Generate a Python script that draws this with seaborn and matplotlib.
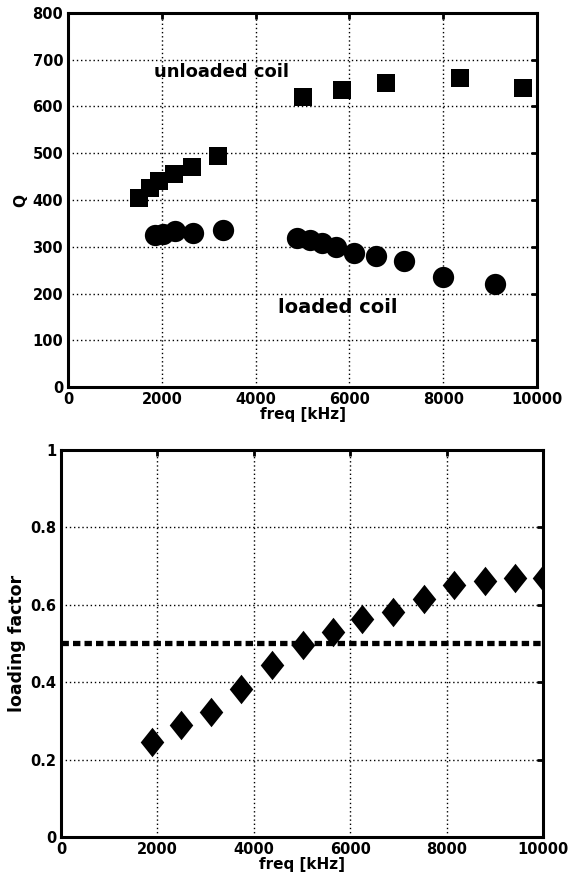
import matplotlib
matplotlib.use("Agg")
import matplotlib.pyplot as plt
from matplotlib.path import Path
import pandas as pd
import seaborn as sns

# Q of the coil, unloaded
unloaded_freq = [1520, 1750, 1950, 2250, 2650, 3200, 5000, 5850, 6780, 8350, 9700]
unloaded_q = [405, 425, 440, 455, 470, 495, 620, 635, 650, 660, 640]

# Q of the coil, loaded
loaded_freq = [1860, 2030, 2280, 2670, 3310, 4880, 5150, 5410, 5710, 6100, 6570, 7170, 8000, 9100]
loaded_q = [325, 327, 333, 330, 335, 318, 315, 307, 300, 286, 281, 270, 236, 220]

# loading factor
lf_freq = [1880, 2490, 3120, 3740, 4380, 5020, 5650, 6250, 6890, 7530, 8160, 8790, 9410, 10020]
lf_value = [0.245, 0.29, 0.322, 0.383, 0.444, 0.496, 0.53, 0.562, 0.582, 0.615, 0.65, 0.662, 0.669, 0.668]
lf_ref = 0.5

x_ticks = [0, 2000, 4000, 6000, 8000, 10000]
q_ticks = [0, 100, 200, 300, 400, 500, 600, 700, 800]
lf_ticks = [0, 0.2, 0.4, 0.6, 0.8, 1]

df_un = pd.DataFrame({"freq": unloaded_freq, "Q": unloaded_q})
df_lo = pd.DataFrame({"freq": loaded_freq, "Q": loaded_q})
df_lf = pd.DataFrame({"freq": lf_freq, "lf": lf_value})

sns.set_style("white")
plt.rcParams["font.family"] = ["DejaVu Sans"]
plt.rcParams["font.weight"] = "bold"
plt.rcParams["text.color"] = "black"
plt.rcParams["axes.labelcolor"] = "black"
plt.rcParams["xtick.color"] = "black"
plt.rcParams["ytick.color"] = "black"

fig = plt.figure(figsize=(5.75, 8.84), dpi=100)
ax1 = fig.add_axes([0.1183, 0.5622, 0.8157, 0.4231])
ax2 = fig.add_axes([0.1061, 0.0532, 0.8383, 0.4378])

# tall diamond like the original
diamond = Path([(0, 1), (0.8, 0), (0, -1), (-0.8, 0), (0, 1)],
               [Path.MOVETO, Path.LINETO, Path.LINETO, Path.LINETO, Path.CLOSEPOLY])


def style_axes(ax, yticks, ylabel, ylabel_size):
    ax.set_xlim(0, 10000)
    ax.set_ylim(yticks[0], yticks[-1])
    ax.set_xticks(x_ticks)
    ax.set_yticks(yticks)
    ax.set_yticklabels([f"{t:g}" for t in yticks])
    ax.grid(True, linestyle=(0, (1, 2)), color="black", linewidth=1.0)
    ax.set_axisbelow(True)
    for s in ax.spines.values():
        s.set_linewidth(2.2)
        s.set_color("black")
    ax.tick_params(direction="in", length=4, width=2, top=True, right=True,
                   labelsize=10.5, colors="black")
    ax.tick_params(axis="x", pad=3.5)
    ax.tick_params(axis="y", pad=3.5)
    for lab in ax.get_xticklabels() + ax.get_yticklabels():
        lab.set_fontweight("bold")
    ax.set_xlabel("freq [kHz]", fontsize=11, fontweight="bold", labelpad=0, color="black")
    ax.set_ylabel(ylabel, fontsize=ylabel_size, fontweight="bold", labelpad=3, color="black")


# top: Q vs frequency
sns.scatterplot(data=df_un, x="freq", y="Q", marker="s", s=160, color="black",
                edgecolor="black", linewidth=0, ax=ax1, clip_on=True)
sns.scatterplot(data=df_lo, x="freq", y="Q", marker="o", s=235, color="black",
                edgecolor="black", linewidth=0, ax=ax1, clip_on=True)
style_axes(ax1, q_ticks, "Q", 11)
ax1.text(3280, 674, "unloaded coil", fontsize=13, fontweight="bold",
         ha="center", va="center", color="black")
ax1.text(5760, 171, "loaded coil", fontsize=14, fontweight="bold",
         ha="center", va="center", color="black")

# bottom: loading factor
ax2.axhline(lf_ref, color="black", linewidth=3.8, linestyle=(0, (1.4, 0.78)))
sns.scatterplot(data=df_lf, x="freq", y="lf", marker=diamond, s=450, color="black",
                edgecolor="black", linewidth=0, ax=ax2, clip_on=True)
style_axes(ax2, lf_ticks, "loading factor", 12.5)

fig.savefig("out.png", dpi=100)
